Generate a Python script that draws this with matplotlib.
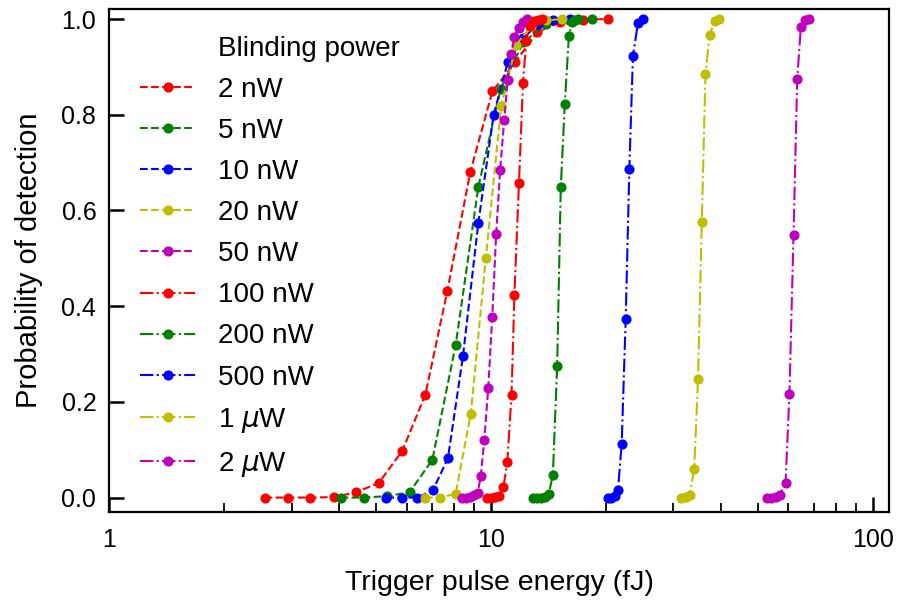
import matplotlib.pyplot as plt
from matplotlib.ticker import FixedLocator, FixedFormatter, NullFormatter, LogLocator

plt.rcParams['font.family'] = ['Liberation Sans', 'DejaVu Sans']
plt.rcParams['mathtext.fontset'] = 'dejavusans'

# Probability of detection vs trigger pulse energy (fJ), one curve per blinding power
labels = ['2 nW', '5 nW', '10 nW', '20 nW', '50 nW',
          '100 nW', '200 nW', '500 nW', r'1 $\mu$W', r'2 $\mu$W']

x_2nw = [2.55, 2.94, 3.36, 3.87, 4.43, 5.08, 5.85, 6.72, 7.67, 8.81, 10.07, 11.56, 13.2, 15.1, 17.4, 20.2]
y_2nw = [0, 0, 0, 0.001, 0.011, 0.031, 0.098, 0.215, 0.431, 0.68, 0.849, 0.91, 0.973, 0.993, 0.999, 1.0]

x_5nw = [4.03, 4.64, 5.34, 6.11, 7.01, 8.07, 9.25, 10.58, 12.13, 13.93, 16.0, 18.4]
y_5nw = [0, 0, 0.003, 0.011, 0.079, 0.319, 0.649, 0.854, 0.951, 0.99, 0.998, 1.0]

x_10nw = [5.31, 5.84, 6.40, 7.03, 7.70, 8.43, 9.25, 10.14, 11.06, 12.13, 13.27, 14.5, 16.1]
y_10nw = [0, 0, 0, 0.015, 0.082, 0.295, 0.574, 0.799, 0.911, 0.96, 0.99, 0.998, 1.0]

x_20nw = [6.70, 7.36, 8.07, 8.84, 9.68, 10.62, 11.62, 12.7, 13.9, 15.3]
y_20nw = [0, 0, 0.008, 0.175, 0.501, 0.819, 0.946, 0.985, 0.997, 1.0]

x_50nw = [8.37, 8.58, 8.79, 9.00, 9.22, 9.39, 9.59, 9.82, 10.06, 10.30, 10.55, 10.81, 11.04, 11.29, 11.5, 11.8, 12.1, 12.4]
y_50nw = [0, 0, 0.002, 0.005, 0.01, 0.046, 0.121, 0.229, 0.377, 0.55, 0.684, 0.788, 0.873, 0.928, 0.963, 0.982, 0.993, 1.0]

x_100nw = [9.73, 9.97, 10.21, 10.46, 10.76, 11.02, 11.30, 11.50, 11.82, 12.11, 12.35, 12.6, 12.93, 13.25, 13.58]
y_100nw = [0, 0, 0.001, 0.004, 0.022, 0.075, 0.215, 0.424, 0.658, 0.867, 0.955, 0.985, 0.995, 0.999, 1.0]

x_200nw = [12.84, 13.15, 13.48, 13.81, 14.15, 14.5, 14.88, 15.21, 15.58, 15.97, 16.28, 16.6, 16.9]
y_200nw = [0, 0, 0, 0.002, 0.008, 0.048, 0.275, 0.649, 0.822, 0.964, 0.994, 0.999, 1.0]

x_500nw = [20.18, 20.61, 21.05, 21.47, 21.96, 22.5, 23.0, 23.5, 24.23, 24.97]
y_500nw = [0, 0, 0.003, 0.015, 0.112, 0.374, 0.686, 0.923, 0.992, 1.0]

x_1uw = [31.5, 32.3, 33.1, 34.0, 34.8, 35.6, 36.4, 37.3, 38.5, 39.6]
y_1uw = [0, 0.002, 0.006, 0.059, 0.248, 0.576, 0.885, 0.966, 0.996, 1.0]

x_2uw = [52.9, 54.2, 55.6, 56.9, 59.0, 60.4, 61.9, 63.3, 64.7, 66.2, 67.8]
y_2uw = [0, 0, 0.002, 0.005, 0.03, 0.217, 0.548, 0.874, 0.983, 0.997, 1.0]

xs = [x_2nw, x_5nw, x_10nw, x_20nw, x_50nw, x_100nw, x_200nw, x_500nw, x_1uw, x_2uw]
ys = [y_2nw, y_5nw, y_10nw, y_20nw, y_50nw, y_100nw, y_200nw, y_500nw, y_1uw, y_2uw]
colors = ['r', 'g', 'b', 'y', 'm'] * 2
styles = ['--'] * 5 + ['-.'] * 5

fig = plt.figure(figsize=(9.01, 6), dpi=100)
ax = fig.add_axes([0.1215, 0.146, 0.865, 0.839])

# empty entry so the legend title lines up with the labels
ax.plot([], [], ' ', label='Blinding power')
for x, y, c, ls, lab in zip(xs, ys, colors, styles, labels):
    ax.plot(x, y, ls, color=c, marker='o', markersize=6.3, linewidth=1.5, label=lab)

ax.set_xscale('log')
ax.set_xlim(1, 110)
ax.set_ylim(-0.031, 1.021)
ax.xaxis.set_major_locator(FixedLocator([1, 10, 100]))
ax.xaxis.set_major_formatter(FixedFormatter(['1', '10', '100']))
ax.xaxis.set_minor_locator(LogLocator(base=10, subs=range(2, 10)))
ax.xaxis.set_minor_formatter(NullFormatter())
ax.set_yticks([0, 0.2, 0.4, 0.6, 0.8, 1.0])
ax.set_yticklabels(['0.0', '0.2', '0.4', '0.6', '0.8', '1.0'])

ax.tick_params(which='major', direction='in', length=11, width=1.8, labelsize=18)
ax.tick_params(axis='x', which='major', pad=11)
ax.tick_params(axis='y', which='major', pad=9.5)
ax.tick_params(which='minor', direction='in', length=6.5, width=1.3)
for s in ax.spines.values():
    s.set_linewidth(1.6)

ax.set_xlabel('Trigger pulse energy (fJ)', fontsize=20.5, labelpad=13)
ax.set_ylabel('Probability of detection', fontsize=21, labelpad=13)

ax.legend(loc='upper left', frameon=False, fontsize=20, handlelength=2.0,
          labelspacing=0.545, borderaxespad=0.5, bbox_to_anchor=(0.007, 0.997))

fig.savefig('out.png', dpi=100)
